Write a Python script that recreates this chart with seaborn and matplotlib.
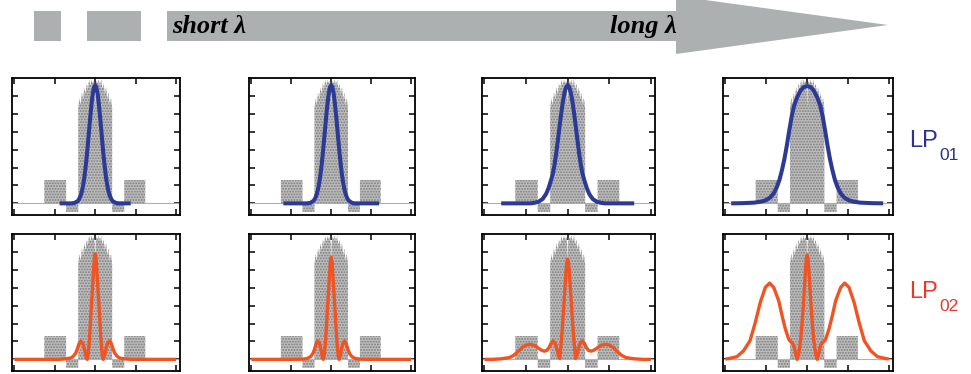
import matplotlib
matplotlib.use("Agg")
import matplotlib.pyplot as plt
import seaborn as sns
from matplotlib.patches import Rectangle, Polygon

# ---------------- data ----------------
# refractive-index profile (same fibre in every panel)
prof_x = [-1.03, -0.63, -0.63, -0.36, -0.36, -0.21, -0.21, -0.195, -0.18, -0.165,
          -0.15, -0.135, -0.12, -0.105, -0.09, -0.075, -0.06, -0.045, -0.03, -0.015,
          -0.006, 0.0, 0.006, 0.015, 0.03, 0.045, 0.06, 0.075, 0.09, 0.105,
          0.12, 0.135, 0.15, 0.165, 0.18, 0.195, 0.21, 0.21, 0.36, 0.36,
          0.62, 0.62, 1.05]
prof_y = [0, 0, 1.3, 1.3, -0.47, -0.47, 5.3, 5.9, 5.5, 6.2,
          5.8, 6.5, 6.1, 6.7, 6.4, 6.9, 6.6, 6.9, 6.7, 6.85,
          6.5, 5.3, 6.5, 6.85, 6.7, 6.9, 6.6, 6.9, 6.4, 6.7,
          6.1, 6.5, 5.8, 6.2, 5.5, 5.9, 5.3, -0.47, -0.47, 1.3,
          1.3, 0, 0]

# LP01 radial intensity (short -> long wavelength)
lp01_r1 = [0, 0.015, 0.03, 0.045, 0.06, 0.075, 0.09, 0.105, 0.12, 0.135, 0.15, 0.165, 0.18, 0.2, 0.22, 0.26, 0.3, 0.44]
lp01_i1 = [6.6, 6.47, 6.12, 5.56, 4.87, 4.11, 3.33, 2.60, 1.96, 1.42, 0.99, 0.66, 0.43, 0.23, 0.11, 0.02, 0, 0]
lp01_r2 = [0, 0.015, 0.03, 0.045, 0.06, 0.075, 0.09, 0.105, 0.12, 0.135, 0.15, 0.165, 0.18, 0.2, 0.22, 0.26, 0.3, 0.6]
lp01_i2 = [6.6, 6.49, 6.15, 5.63, 4.98, 4.25, 3.50, 2.79, 2.14, 1.59, 1.14, 0.79, 0.53, 0.29, 0.15, 0.03, 0, 0]
lp01_r3 = [0, 0.02, 0.04, 0.06, 0.08, 0.1, 0.12, 0.14, 0.16, 0.18, 0.2, 0.23, 0.26, 0.3, 0.35, 0.4, 0.45, 0.8]
lp01_i3 = [6.6, 6.48, 6.14, 5.61, 4.94, 4.19, 3.44, 2.71, 2.1, 1.62, 1.3, 0.85, 0.52, 0.25, 0.09, 0.03, 0, 0]
lp01_r4 = [0, 0.04, 0.08, 0.12, 0.16, 0.19, 0.22, 0.25, 0.28, 0.31, 0.34, 0.37, 0.41, 0.45, 0.5, 0.56, 0.65, 0.8, 0.93]
lp01_i4 = [6.55, 6.5, 6.3, 5.95, 5.45, 4.85, 4.05, 3.2, 2.45, 1.83, 1.3, 0.92, 0.56, 0.34, 0.19, 0.1, 0.04, 0.01, 0]

# LP02 radial intensity
lp02_r1 = [0, 0.012, 0.025, 0.04, 0.05, 0.06, 0.07, 0.08, 0.09, 0.1, 0.115, 0.135, 0.155, 0.18, 0.2, 0.22, 0.24, 0.27, 0.3, 0.36, 0.45, 1.0]
lp02_i1 = [5.9, 5.6, 4.6, 3.5, 2.8, 2.0, 1.2, 0.6, 0.2, 0.0, 0.2, 0.6, 0.92, 1.02, 0.88, 0.6, 0.36, 0.18, 0.08, 0.03, 0, 0]
lp02_r2 = [0, 0.012, 0.025, 0.04, 0.05, 0.06, 0.07, 0.08, 0.09, 0.1, 0.115, 0.13, 0.15, 0.17, 0.19, 0.21, 0.23, 0.26, 0.3, 0.36, 0.45, 1.0]
lp02_i2 = [5.7, 5.4, 4.4, 3.3, 2.6, 1.8, 1.1, 0.55, 0.15, 0.0, 0.2, 0.6, 0.95, 1.02, 0.85, 0.55, 0.32, 0.15, 0.05, 0.01, 0, 0]
lp02_r3 = [0, 0.01, 0.02, 0.035, 0.05, 0.065, 0.08, 0.095, 0.11, 0.13, 0.15, 0.175, 0.2, 0.225, 0.25, 0.28, 0.31, 0.35, 0.4, 0.455, 0.5, 0.55, 0.6, 0.65, 0.7, 0.8, 0.9, 1.0]
lp02_i3 = [5.6, 5.4, 4.9, 3.8, 2.7, 1.7, 0.8, 0.05, 0.2, 0.6, 0.9, 1.03, 0.9, 0.65, 0.5, 0.46, 0.5, 0.62, 0.78, 0.84, 0.8, 0.65, 0.42, 0.22, 0.1, 0.03, 0, 0]
lp02_r4 = [0, 0.01, 0.02, 0.035, 0.05, 0.065, 0.08, 0.1, 0.123, 0.143, 0.165, 0.184, 0.205, 0.225, 0.266, 0.307, 0.348, 0.41, 0.459, 0.512, 0.574, 0.635, 0.70, 0.78, 0.86, 0.963, 1.0]
lp02_i4 = [5.83, 5.6, 5.0, 3.9, 2.8, 1.9, 1.1, 0.4, 0.0, 0.37, 0.8, 0.93, 1.0, 1.12, 1.68, 2.43, 3.27, 4.02, 4.26, 4.02, 3.18, 2.06, 1.03, 0.47, 0.15, 0.04, 0.02]

lp01_sets = [(lp01_r1, lp01_i1), (lp01_r2, lp01_i2), (lp01_r3, lp01_i3), (lp01_r4, lp01_i4)]
lp02_sets = [(lp02_r1, lp02_i1), (lp02_r2, lp02_i2), (lp02_r3, lp02_i3), (lp02_r4, lp02_i4)]

arrow_labels = ["short \u03bb", "long \u03bb"]
mode_labels = [("LP", "01"), ("LP", "02")]

# ---------------- style ----------------
sns.set_style("ticks", {"xtick.direction": "in", "ytick.direction": "in"})
plt.rcParams["hatch.linewidth"] = 0.9

W, H = 971, 374
fig = plt.figure(figsize=(W / 100, H / 100), dpi=100)

cols = [(12, 180), (249, 415), (482, 655), (723, 893)]
rows = [(78, 215), (234, 371)]
BLUE = "#2b3a94"
ORANGE = "#f05423"


def mirror(r, v):
    x = [-a for a in r[::-1]] + list(r[1:])
    y = list(v[::-1]) + list(v[1:])
    return x, y


for ri, (top, bot) in enumerate(rows):
    sets = lp01_sets if ri == 0 else lp02_sets
    color = BLUE if ri == 0 else ORANGE
    lw = 2.9 if ri == 0 else 2.4
    for ci, (l, r) in enumerate(cols):
        ax = fig.add_axes([l / W, 1 - bot / H, (r - l) / W, (bot - top) / H])
        ax.axhline(0, color="#b0b0b0", lw=0.8, zorder=1)
        ax.fill_between(prof_x, 0, prof_y, facecolor="#bdbdbd", edgecolor="#7c7c7c",
                        hatch="......", linewidth=0, zorder=2)
        x, y = mirror(*sets[ci])
        sns.lineplot(x=x, y=y, ax=ax, color=color, lw=lw, sort=False,
                     estimator=None, zorder=3, solid_capstyle="butt")
        ax.set_xlim(-1.03, 1.05)
        ax.set_ylim(-0.65, 7.0)
        ax.set_xticks([-1, -0.5, 0, 0.5, 1])
        ax.set_yticks([0, 1, 2, 3, 4, 5, 6])
        ax.tick_params(which="both", direction="in", top=True, right=True,
                       labelbottom=False, labelleft=False, length=4.5, width=1.1,
                       color="black")
        for s in ax.spines.values():
            s.set_linewidth(1.3)
            s.set_color("black")
        ax.set_xlabel("")
        ax.set_ylabel("")

# ---------------- overlay: arrow and labels ----------------
ov = fig.add_axes([0, 0, 1, 1])
ov.set_xlim(0, W)
ov.set_ylim(H, 0)
ov.axis("off")
GRAY = "#adb0b0"
ov.add_patch(Rectangle((34, 11), 27, 30, color=GRAY, lw=0))
ov.add_patch(Rectangle((87, 11), 54, 30, color=GRAY, lw=0))
ov.add_patch(Rectangle((167, 11), 510, 29.5, color=GRAY, lw=0))
ov.add_patch(Polygon([(676, -4), (888, 25), (676, 54)], closed=True, color=GRAY, lw=0))
ov.text(172, 33, arrow_labels[0], family="Liberation Serif", style="italic",
        weight="bold", fontsize=19, color="black", ha="left", va="baseline")
ov.text(677, 33, arrow_labels[1], family="Liberation Serif", style="italic",
        weight="bold", fontsize=19, color="black", ha="right", va="baseline")

for (lp, sub), col, yb in zip(mode_labels, ["#2e3192", "#e8382a"], [147, 298]):
    t = ov.text(909, yb, lp, family="Liberation Sans", fontsize=17, color=col,
                ha="left", va="baseline")
    ov.annotate(sub, xy=(1.0, 0.0), xycoords=t, xytext=(1, -6),
                textcoords="offset points", family="Liberation Sans",
                fontsize=12.5, color=col, ha="left", va="baseline")

fig.savefig("out.png", dpi=100)
